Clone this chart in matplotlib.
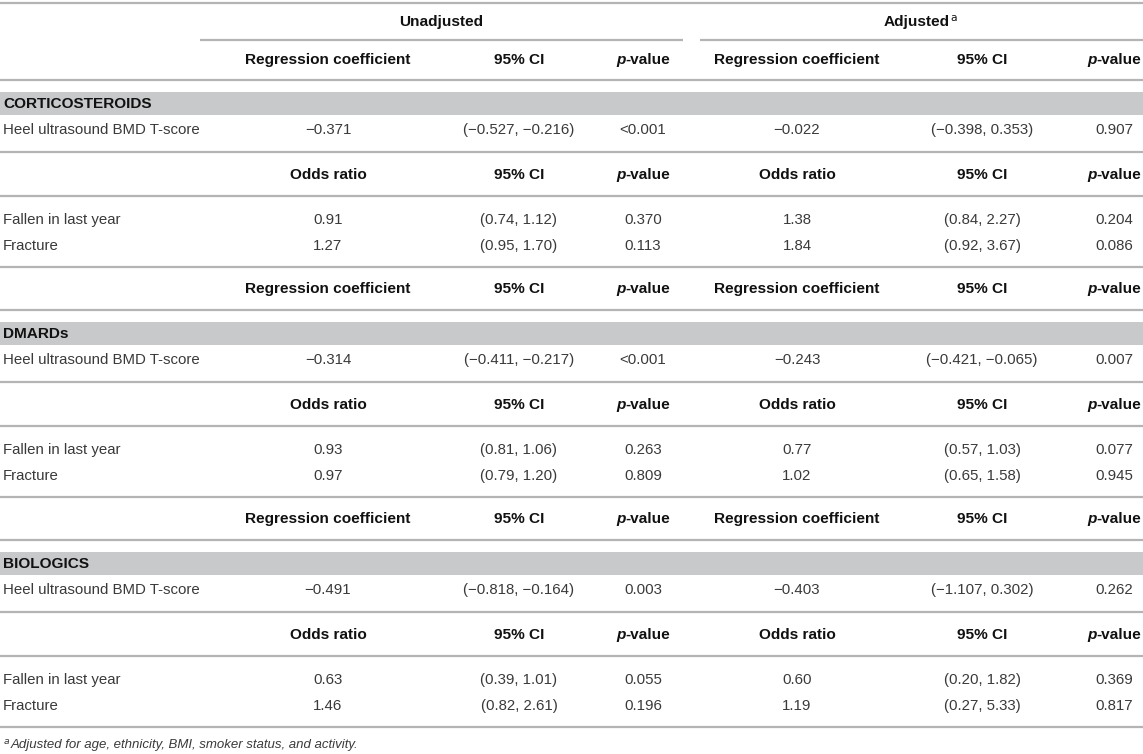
import matplotlib.pyplot as plt

# dados da tabela
grupos = ['CORTICOSTEROIDS', 'DMARDs', 'BIOLOGICS']

cab_reg = ['Regression coefficient', '95% CI', 'p-value']
cab_odds = ['Odds ratio', '95% CI', 'p-value']

linha_bmd = 'Heel ultrasound BMD T-score'
linhas_odds = ['Fallen in last year', 'Fracture']

bmd_valores = [
    ['\u22120.371', '(\u22120.527, \u22120.216)', '<0.001', '\u22120.022', '(\u22120.398, 0.353)', '0.907'],
    ['\u22120.314', '(\u22120.411, \u22120.217)', '<0.001', '\u22120.243', '(\u22120.421, \u22120.065)', '0.007'],
    ['\u22120.491', '(\u22120.818, \u22120.164)', '0.003', '\u22120.403', '(\u22121.107, 0.302)', '0.262'],
]

odds_valores = [
    [['0.91', '(0.74, 1.12)', '0.370', '1.38', '(0.84, 2.27)', '0.204'],
     ['1.27', '(0.95, 1.70)', '0.113', '1.84', '(0.92, 3.67)', '0.086']],
    [['0.93', '(0.81, 1.06)', '0.263', '0.77', '(0.57, 1.03)', '0.077'],
     ['0.97', '(0.79, 1.20)', '0.809', '1.02', '(0.65, 1.58)', '0.945']],
    [['0.63', '(0.39, 1.01)', '0.055', '0.60', '(0.20, 1.82)', '0.369'],
     ['1.46', '(0.82, 2.61)', '0.196', '1.19', '(0.27, 5.33)', '0.817']],
]

rodape = 'Adjusted for age, ethnicity, BMI, smoker status, and activity.'

# layout (em pixels)
W, H = 1143, 754
xcols = [328, 519, 643, 797, 982, 1114]
cor_linha = '#b4b4b4'
cor_faixa = '#c8c9cb'
cor_texto = '#3a3a3a'
cor_negrito = '#111111'
fs = 10.8
fsb = 11.1
dy = 1  # pequeno ajuste vertical do texto

plt.rcParams['font.family'] = 'Liberation Sans'

fig = plt.figure(figsize=(W / 100, H / 100), dpi=100)
ax = fig.add_axes([0, 0, 1, 1])
ax.set_xlim(0, W)
ax.set_ylim(H, 0)
ax.axis('off')
fig.canvas.draw()
renderer = fig.canvas.get_renderer()


def largura(t):
    return t.get_window_extent(renderer).width  # pixels = unidades de dados aqui


def pedacos(x, y, partes, ha='center'):
    # partes: lista de (texto, kwargs); coloca lado a lado
    objs = [ax.text(0, y, s, ha='left', va='center', **kw) for s, kw in partes]
    ws = [largura(o) for o in objs]
    total = sum(ws)
    if ha == 'center':
        x0 = x - total / 2
    elif ha == 'right':
        x0 = x - total
    else:
        x0 = x
    for o, w in zip(objs, ws):
        o.set_x(x0)
        x0 += w
    return objs


def regua(y, x0=0, x1=W):
    ax.plot([x0, x1], [y, y], color=cor_linha, lw=1.6, solid_capstyle='butt')


def cabecalho(y, nomes):
    y = y + dy
    for k in range(6):
        nome = nomes[k % 3]
        if nome == 'p-value':
            pedacos(xcols[k], y, [
                ('p', dict(fontsize=fsb, fontweight='bold', fontstyle='italic', color=cor_negrito)),
                ('-value', dict(fontsize=fsb, fontweight='bold', color=cor_negrito)),
            ])
        else:
            ax.text(xcols[k], y, nome, ha='center', va='center', fontsize=fsb,
                    fontweight='bold', color=cor_negrito)


def linha_dados(y, rotulo, vals):
    y = y + dy
    ax.text(3, y, rotulo, ha='left', va='center', fontsize=fs, color=cor_texto)
    for k, v in enumerate(vals):
        ax.text(xcols[k], y, v, ha='center', va='center', fontsize=fs, color=cor_texto)


# topo
regua(3)
ax.text(441, 21 + dy, 'Unadjusted', ha='center', va='center', fontsize=fsb,
        fontweight='bold', color=cor_negrito)
pedacos(921, 21 + dy, [
    ('Adjusted', dict(fontsize=fsb, fontweight='bold', color=cor_negrito)),
    ('$^{\\mathrm{a}}$', dict(fontsize=fsb, color=cor_negrito)),
])
regua(40, 200, 683)
regua(40, 700, W)
cabecalho(59, cab_reg)
regua(80)

y0 = 92
passo = 230
for g, nome in enumerate(grupos):
    base = y0 + g * passo
    if g > 0:
        cabecalho(base - 34, cab_reg)
        regua(base - 12)
    ax.fill_between([0, W], base, base + 23, color=cor_faixa, lw=0)
    ax.text(3, base + 11.5 + dy, nome, ha='left', va='center', fontsize=fsb,
            fontweight='bold', color=cor_negrito)
    linha_dados(base + 37, linha_bmd, bmd_valores[g])
    regua(base + 60)
    cabecalho(base + 82, cab_odds)
    regua(base + 104)
    for i, rot in enumerate(linhas_odds):
        linha_dados(base + 127 + i * 26, rot, odds_valores[g][i])
    regua(base + 175)

pedacos(3, 745, [
    ('$^{a}$', dict(fontsize=9.5, color=cor_texto)),
    (rodape, dict(fontsize=9.5, fontstyle='italic', color=cor_texto)),
], ha='left')

fig.savefig('out.png', dpi=100)
